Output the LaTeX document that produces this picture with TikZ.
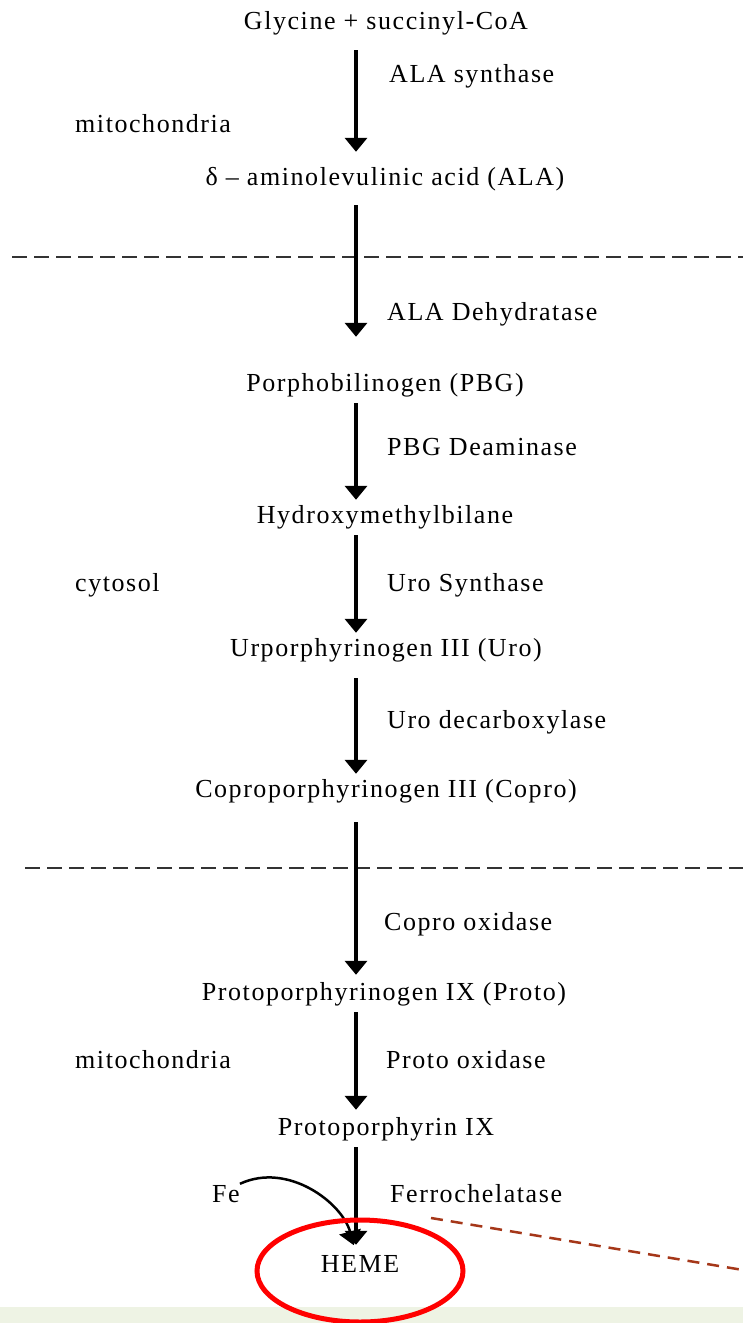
\documentclass[tikz,border=0pt]{standalone}
\usepackage{fontspec}
\setmainfont{Liberation Serif}[LetterSpace=6]
\usetikzlibrary{arrows.meta, shapes.geometric}
\definecolor{stripgreen}{RGB}{238,243,228}
\definecolor{calloutred}{RGB}{165,55,25}

\begin{document}
\begin{tikzpicture}[x=1pt, y=-1pt,
        compound/.style={anchor=base, inner sep=0pt, text height=18pt, text depth=6pt, font=\fontsize{26}{30}\selectfont},
        enzyme/.style={compound, anchor=base west},
        location/.style={compound, anchor=base west},
        arrow/.style={-{Triangle[width=22pt, length=14pt]}, line width=3.5pt, shorten <=6pt, shorten >=5pt},
        divider/.style={dash pattern=on 15pt off 7pt, line width=2.5pt, black!80},
        ring/.style={draw=red, line width=5pt, ellipse, inner sep=0pt, minimum width=206pt, minimum height=102pt}
    ]
    \useasboundingbox (0,0) rectangle (743,1323);
    \fill[stripgreen] (0,1307) rectangle (743,1323);

    % main axis of the pathway
    \coordinate (axis) at (356,0);

    % ==================== Mitochondria (top) ====================
    \node[compound] (gly) at (386,29) {Glycine + succinyl-CoA};
    \node[enzyme] (alas) at (389,82) {ALA synthase};
    \node[location] (mito_top) at (75,132) {mitochondria};
    \node[compound] (ala) at (385,185) {δ – aminolevulinic acid (ALA)};

    \coordinate (div_top_l) at (12,257);
    \coordinate (div_top_r) at (743,257);
    \draw[divider] (div_top_l) -- (div_top_r);

    % ==================== Cytosol ====================
    \node[enzyme] (alad) at (387,320) {ALA Dehydratase};
    \node[compound] (pbg) at (385,391) {Porphobilinogen (PBG)};
    \node[enzyme] (pbgd) at (387,455) {PBG Deaminase};
    \node[compound] (hmb) at (385,523) {Hydroxymethylbilane};
    \node[location] (cyto) at (75,591) {cytosol};
    \node[enzyme] (uros) at (387,591) {Uro Synthase};
    \node[compound] (uro) at (386,656) {Urporphyrinogen III (Uro)};
    \node[enzyme] (urod) at (387,728) {Uro decarboxylase};
    \node[compound] (copro) at (386,797) {Coproporphyrinogen III (Copro)};

    \coordinate (div_bot_l) at (25,868);
    \coordinate (div_bot_r) at (743,868);
    \draw[divider] (div_bot_l) -- (div_bot_r);

    % ==================== Mitochondria (bottom) ====================
    \node[enzyme] (cpox) at (384,930) {Copro oxidase};
    \node[compound] (proto) at (384,1000) {Protoporphyrinogen IX (Proto)};
    \node[location] (mito_bot) at (75,1068) {mitochondria};
    \node[enzyme] (ppox) at (386,1068) {Proto oxidase};
    \node[compound] (pp) at (386,1135) {Protoporphyrin IX};
    \node[location] (fe) at (212,1202) {Fe};
    \node[enzyme] (fech) at (390,1202) {Ferrochelatase};
    \node[compound] (heme) at (360,1272) {HEME};

    % Arrows
    \draw[arrow, shorten <=15pt, shorten >=15pt] (gly.south -| axis) -- (ala.north -| axis);
    \draw[arrow, shorten <=14pt, shorten >=36pt] (ala.south -| axis) -- (pbg.north -| axis);
    \draw[arrow] (pbg.south -| axis) -- (hmb.north -| axis);
    \draw[arrow] (hmb.south -| axis) -- (uro.north -| axis);
    \draw[arrow, shorten <=16pt] (uro.south -| axis) -- (copro.north -| axis);
    \draw[arrow, shorten <=19pt, shorten >=7pt] (copro.south -| axis) -- (proto.north -| axis);
    \draw[arrow, shorten >=7pt] (proto.south -| axis) -- (pp.north -| axis);
    \draw[arrow, shorten >=9pt] (pp.south -| axis) -- (heme.north -| axis);
    \draw[arrow, line width=2.5pt, shorten <=0pt, shorten >=9pt] (fe.north east) to[out=25, in=105] (heme.north -| axis);

    % Highlight
    \node[ring] (heme_ring) at (360,1271) {};
    \coordinate (callout_start) at (431,1218);
    \coordinate (callout_end) at (743,1270);
    \draw[calloutred, line width=2.5pt, dash pattern=on 12pt off 8pt] (callout_start) -- (callout_end);

\end{tikzpicture}
\end{document}
